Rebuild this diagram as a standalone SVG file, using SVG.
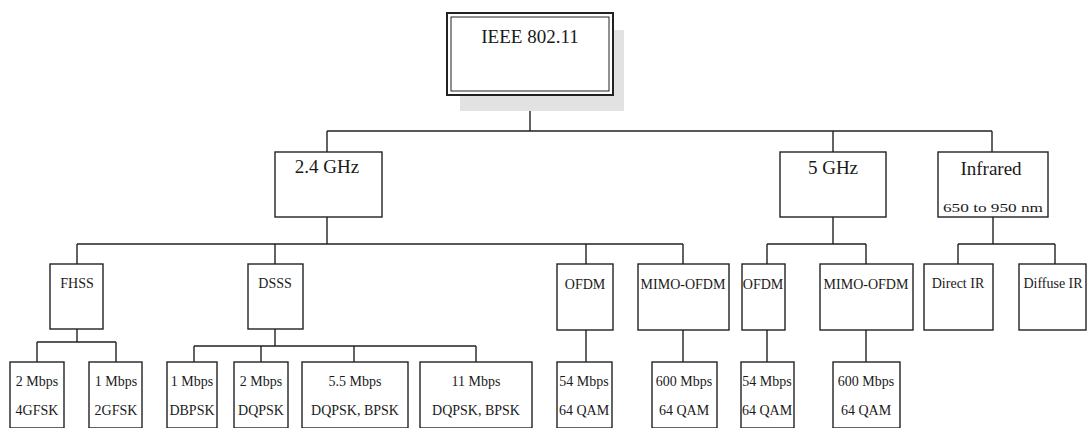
<svg xmlns="http://www.w3.org/2000/svg" width="1088" height="428" viewBox="0 0 1088 428">
<style>
.bx{fill:#fff;stroke:#222;stroke-width:1.4}
.ln{fill:none;stroke:#222;stroke-width:1.4}
text{font-family:"Liberation Serif","Times New Roman",serif;fill:#1a1a1a;text-anchor:middle}
.t1{font-size:19px}
.t2{font-size:19px}
.t3{font-size:14px}
.t4{font-size:13px}
</style>
<rect width="1088" height="428" fill="#fff"/>
<g id="connectors">
<path class="ln" d="M530,95 V131 M327,131 H992 M327,131 V152 M833,131 V152 M992,131 V152"/>
<path class="ln" d="M327,217 V244 M77,244 H683 M77,244 V264 M275,244 V264 M586,244 V264 M683,244 V264"/>
<path class="ln" d="M833,217 V244 M767,244 H866 M767,244 V264 M866,244 V264"/>
<path class="ln" d="M993,217 V244 M958,244 H1055 M958,244 V264 M1055,244 V264"/>
<path class="ln" d="M77,329 V342 M37,342 H116 M37,342 V362 M116,342 V362"/>
<path class="ln" d="M275,329 V346 M194,346 H476 M194,346 V362 M261,346 V362 M354,346 V362 M476,346 V362"/>
<path class="ln" d="M586,330 V362 M683,330 V362 M767,330 V362 M866,330 V362"/>
</g>
<g id="ieee">
<rect x="460" y="30" width="164" height="81" fill="#e2e2e2"/>
<rect x="447" y="13" width="166" height="82" fill="#fff" stroke="#222" stroke-width="2"/>
<rect x="451" y="17" width="158" height="74" fill="none" stroke="#222" stroke-width="1"/>
<text class="t1" x="530" y="43">IEEE 802.11</text>
</g>
<g id="ghz24"><rect class="bx" x="275" y="152" width="107" height="65"/><text class="t2" x="327" y="173">2.4 GHz</text></g>
<g id="ghz5"><rect class="bx" x="780" y="152" width="106" height="65"/><text class="t2" x="833" y="174">5 GHz</text></g>
<g id="infrared"><rect class="bx" x="938" y="152" width="110" height="65"/><text class="t2" x="991" y="175">Infrared</text><text class="t4" x="993" y="212" textLength="100" lengthAdjust="spacingAndGlyphs">650 to 950 nm</text></g>
<g id="fhss"><rect class="bx" x="50" y="264" width="53" height="65"/><text class="t3" x="77" y="288">FHSS</text></g>
<g id="dsss"><rect class="bx" x="248" y="264" width="55" height="65"/><text class="t3" x="275" y="288">DSSS</text></g>
<g id="ofdm24"><rect class="bx" x="557" y="264" width="56" height="66"/><text class="t3" x="585" y="289">OFDM</text></g>
<g id="mimo24"><rect class="bx" x="638" y="264" width="91" height="66"/><text class="t3" x="683" y="289">MIMO-OFDM</text></g>
<g id="ofdm5"><rect class="bx" x="742" y="264" width="43" height="66"/><text class="t3" x="763" y="289">OFDM</text></g>
<g id="mimo5"><rect class="bx" x="820" y="264" width="93" height="66"/><text class="t3" x="866" y="289">MIMO-OFDM</text></g>
<g id="directir"><rect class="bx" x="924" y="264" width="69" height="66"/><text class="t3" x="958" y="288">Direct IR</text></g>
<g id="diffuseir"><rect class="bx" x="1019" y="264" width="67" height="66"/><text class="t3" x="1053" y="288">Diffuse IR</text></g>
<g id="f2"><rect class="bx" x="10" y="362" width="54" height="66"/><text class="t3" x="37" y="386">2 Mbps</text><text class="t3" x="37" y="415">4GFSK</text></g>
<g id="f1"><rect class="bx" x="89" y="362" width="53" height="66"/><text class="t3" x="116" y="386">1 Mbps</text><text class="t3" x="116" y="415">2GFSK</text></g>
<g id="d1"><rect class="bx" x="167" y="362" width="50" height="66"/><text class="t3" x="192" y="386">1 Mbps</text><text class="t3" x="192" y="415">DBPSK</text></g>
<g id="d2"><rect class="bx" x="234" y="362" width="54" height="66"/><text class="t3" x="261" y="386">2 Mbps</text><text class="t3" x="261" y="415">DQPSK</text></g>
<g id="d55"><rect class="bx" x="302" y="362" width="106" height="66"/><text class="t3" x="355" y="386">5.5 Mbps</text><text class="t3" x="355" y="415">DQPSK, BPSK</text></g>
<g id="d11"><rect class="bx" x="420" y="362" width="112" height="66"/><text class="t3" x="476" y="386">11 Mbps</text><text class="t3" x="476" y="415">DQPSK, BPSK</text></g>
<g id="o54a"><rect class="bx" x="557" y="362" width="55" height="66"/><text class="t3" x="584" y="386">54 Mbps</text><text class="t3" x="584" y="415">64 QAM</text></g>
<g id="m600a"><rect class="bx" x="652" y="362" width="65" height="66"/><text class="t3" x="684" y="386">600 Mbps</text><text class="t3" x="684" y="415">64 QAM</text></g>
<g id="o54b"><rect class="bx" x="741" y="362" width="53" height="66"/><text class="t3" x="767" y="386">54 Mbps</text><text class="t3" x="767" y="415">64 QAM</text></g>
<g id="m600b"><rect class="bx" x="833" y="362" width="67" height="66"/><text class="t3" x="866" y="386">600 Mbps</text><text class="t3" x="866" y="415">64 QAM</text></g>
</svg>
